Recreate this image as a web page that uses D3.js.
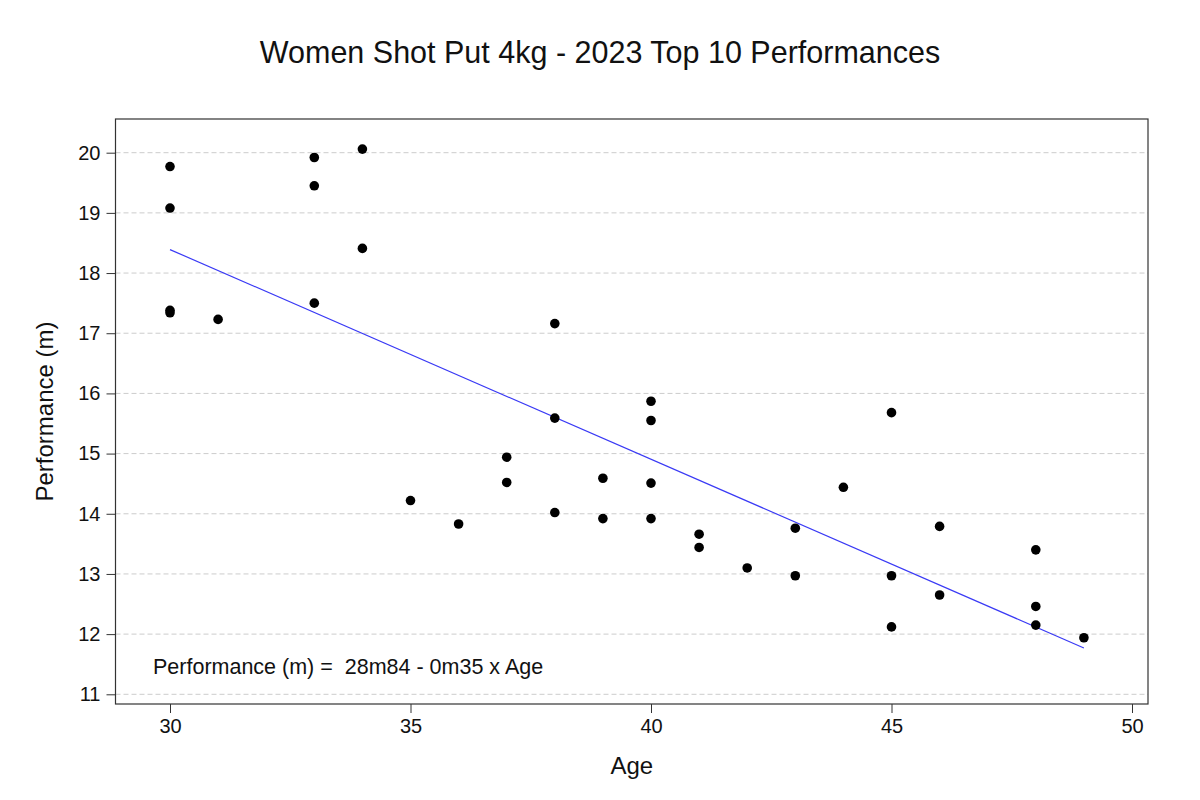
<!DOCTYPE html>
<html>
<head>
<meta charset="utf-8">
<script src="https://cdn.jsdelivr.net/npm/d3@7"></script>
<style>
  html, body { margin: 0; padding: 0; background: #fff; }
  svg { display: block; font-family: "Liberation Sans", Arial, sans-serif; }
</style>
</head>
<body>
<svg id="chart" width="1200" height="800"></svg>
<script>
// Data
const ages = [30,30,30,30, 31, 33,33,33, 34,34, 35, 36, 37,37, 38,38,38, 39,39,
              40,40,40,40, 41,41, 42, 43,43, 44, 45,45,45, 46,46, 48,48,48, 49];
const performances = [19.77,19.08,17.38,17.34, 17.23, 19.92,19.45,17.50, 20.06,18.41,
              14.22, 13.83, 14.94,14.52, 17.16,15.59,14.02, 14.59,13.92,
              15.87,15.55,14.51,13.92, 13.66,13.44, 13.10, 13.76,12.97, 14.44,
              15.68,12.97,12.12, 13.79,12.65, 13.40,12.46,12.15, 11.94];
const xTicks = [30, 35, 40, 45, 50];
const yTicks = [11, 12, 13, 14, 15, 16, 17, 18, 19, 20];
const fitAges = [30, 49];
const fitValues = [18.39, 11.77];
const titleText = "Women Shot Put 4kg - 2023 Top 10 Performances";
const equationText = "Performance (m) =  28m84 - 0m35 x Age";

const svg = d3.select("#chart");
const pLeft = 115.5, pRight = 1148, pTop = 119, pBottom = 704;

const x = d3.scaleLinear().domain([30, 50]).range([170, 1132]);
const y = d3.scaleLinear().domain([11, 20]).range([694.3, 152.7]);

// gridlines
svg.append("g").selectAll("line").data(yTicks).join("line")
  .attr("x1", pLeft).attr("x2", pRight)
  .attr("y1", d => y(d)).attr("y2", d => y(d))
  .attr("stroke", "#cccccc").attr("stroke-width", 1)
  .attr("stroke-dasharray", "5,3");

// frame
svg.append("rect")
  .attr("x", pLeft).attr("y", pTop)
  .attr("width", pRight - pLeft).attr("height", pBottom - pTop)
  .attr("fill", "none").attr("stroke", "#333").attr("stroke-width", 1.2);

// axes
const xAxis = svg.append("g").attr("transform", `translate(0,${pBottom})`)
  .call(d3.axisBottom(x).tickValues(xTicks).tickSize(9).tickPadding(6).tickFormat(d3.format("d")));
const yAxis = svg.append("g").attr("transform", `translate(${pLeft},0)`)
  .call(d3.axisLeft(y).tickValues(yTicks).tickSize(9).tickPadding(6).tickFormat(d3.format("d")));
[xAxis, yAxis].forEach(a => {
  a.select(".domain").remove();
  a.selectAll(".tick line").attr("stroke", "#333");
  a.selectAll(".tick text").attr("fill", "#111")
    .style("font-family", "'Liberation Sans', Arial, sans-serif").style("font-size", "20px");
});

// regression line
const line = d3.line().x(d => x(d[0])).y(d => y(d[1]));
svg.append("path")
  .datum(fitAges.map((a, i) => [a, fitValues[i]]))
  .attr("d", line)
  .attr("fill", "none").attr("stroke", "#3a3af5").attr("stroke-width", 1.2);

// points
svg.append("g").selectAll("circle").data(ages.map((a, i) => [a, performances[i]])).join("circle")
  .attr("cx", d => x(d[0])).attr("cy", d => y(d[1]))
  .attr("r", 4.8).attr("fill", "#000");

// title
svg.append("text").attr("x", 600).attr("y", 63).attr("text-anchor", "middle")
  .style("font-size", "30.5px").attr("fill", "#111").text(titleText);

// equation
svg.append("text").attr("x", 153).attr("y", 674)
  .style("font-size", "21.5px").attr("fill", "#111")
  .style("white-space", "pre").text(equationText);

// axis labels
svg.append("text").attr("x", (pLeft + pRight) / 2).attr("y", 774).attr("text-anchor", "middle")
  .style("font-size", "24px").attr("fill", "#111").text("Age");
svg.append("text").attr("transform", `translate(53,${(pTop + pBottom) / 2}) rotate(-90)`)
  .attr("text-anchor", "middle")
  .style("font-size", "24px").attr("fill", "#111").text("Performance (m)");
</script>
</body>
</html>
